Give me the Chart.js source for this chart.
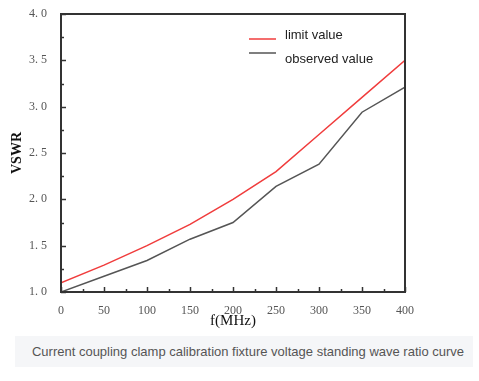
<!DOCTYPE html>
<html>
<head>
<meta charset="utf-8">
<script src="https://cdn.jsdelivr.net/npm/chart.js@4"></script>
<style>
  body { margin: 0; background: #fff; }
  #wrap { position: relative; width: 479px; height: 381px; }
  #box { position: absolute; left: 0; top: 0; width: 479px; height: 330px; }
  #caption {
    position: absolute; left: 15px; top: 336px; width: 450px; height: 31px;
    padding-left: 8px;
    background: #f5f6f8; color: #555; text-align: center;
    font: 13px "Liberation Sans", Arial, sans-serif; line-height: 31px;
  }
</style>
</head>
<body>
<div id="wrap">
  <div id="box"><canvas id="vswr"></canvas></div>
  <div id="caption">Current coupling clamp calibration fixture voltage standing wave ratio curve</div>
</div>
<script>
var freqs = [0, 50, 100, 150, 200, 250, 300, 350, 400];
var limitValues = [1.10, 1.29, 1.50, 1.73, 2.00, 2.30, 2.70, 3.10, 3.50];
var observedValues = [1.00, 1.17, 1.34, 1.57, 1.75, 2.14, 2.38, 2.94, 3.21];

function pts(ys) {
    return freqs.map(function (f, i) { return { x: f, y: ys[i] }; });
}

var serif = '"Liberation Serif", "DejaVu Serif", serif';

// frame, inward ticks and legend
var frame = {
    id: 'frame',
    afterDraw: function (chart) {
        var ctx = chart.ctx, a = chart.chartArea;
        var xs = chart.scales.x, ys = chart.scales.y;
        ctx.save();
        ctx.strokeStyle = '#333';
        ctx.lineWidth = 1.5;
        var v, p;
        for (v = 0; v <= 400; v += 25) {
            p = Math.round(xs.getPixelForValue(v)) + 0.5;
            ctx.beginPath();
            ctx.moveTo(p, a.bottom);
            ctx.lineTo(p, a.bottom - (v % 50 === 0 ? 5 : 3));
            ctx.stroke();
        }
        for (v = 1; v <= 4.001; v += 0.25) {
            p = Math.round(ys.getPixelForValue(v)) + 0.5;
            ctx.beginPath();
            ctx.moveTo(a.left, p);
            ctx.lineTo(a.left + (Math.abs(v * 2 - Math.round(v * 2)) < 0.01 ? 5 : 3), p);
            ctx.stroke();
        }
        ctx.lineWidth = 2;
        ctx.strokeStyle = '#333';
        ctx.strokeRect(a.left, a.top, a.right - a.left, a.bottom - a.top);

        ctx.font = '13px "Liberation Sans", Arial, sans-serif';
        ctx.fillStyle = '#222';
        ctx.textBaseline = 'middle';
        chart.data.datasets.forEach(function (ds, i) {
            var ly = 39 + i * 14;
            ctx.strokeStyle = ds.borderColor;
            ctx.lineWidth = 1.5;
            ctx.beginPath();
            ctx.moveTo(249, ly);
            ctx.lineTo(276, ly);
            ctx.stroke();
            ctx.fillText(ds.label, 285, 35 + i * 24);
        });
        ctx.restore();
    }
};

new Chart(document.getElementById('vswr'), {
    type: 'line',
    data: {
        datasets: [{
            label: 'limit value',
            data: pts(limitValues),
            borderColor: '#f03c3c',
            borderWidth: 1.5,
            pointRadius: 0,
            tension: 0
        }, {
            label: 'observed value',
            data: pts(observedValues),
            borderColor: '#555555',
            borderWidth: 1.5,
            pointRadius: 0,
            tension: 0
        }]
    },
    options: {
        responsive: true,
        maintainAspectRatio: false,
        animation: false,
        layout: { padding: { left: 0, top: 14, right: 74, bottom: 0 } },
        plugins: { legend: { display: false }, tooltip: { enabled: false } },
        scales: {
            x: {
                type: 'linear', min: 0, max: 400,
                grid: { display: false },
                border: { display: false },
                ticks: { stepSize: 50, color: '#555', padding: 4, maxRotation: 0,
                         font: { family: serif, size: 12 } },
                title: { display: true, text: 'f(MHz)', color: '#111', padding: { top: 1, bottom: 0 },
                         font: { family: serif, size: 15 } },
                afterFit: function (s) { s.height = 38; }
            },
            y: {
                min: 1, max: 4,
                grid: { display: false },
                border: { display: false },
                ticks: { stepSize: 0.5, color: '#555', padding: 6,
                         font: { family: serif, size: 12 },
                         callback: function (v) { return v.toFixed(1).replace('.', '. '); } },
                title: { display: true, text: 'VSWR', color: '#111', padding: { top: 9, bottom: 0 },
                         font: { family: serif, size: 14, weight: 'bold' } },
                afterFit: function (s) { s.width = 61; }
            }
        }
    },
    plugins: [frame]
});
</script>
</body>
</html>
